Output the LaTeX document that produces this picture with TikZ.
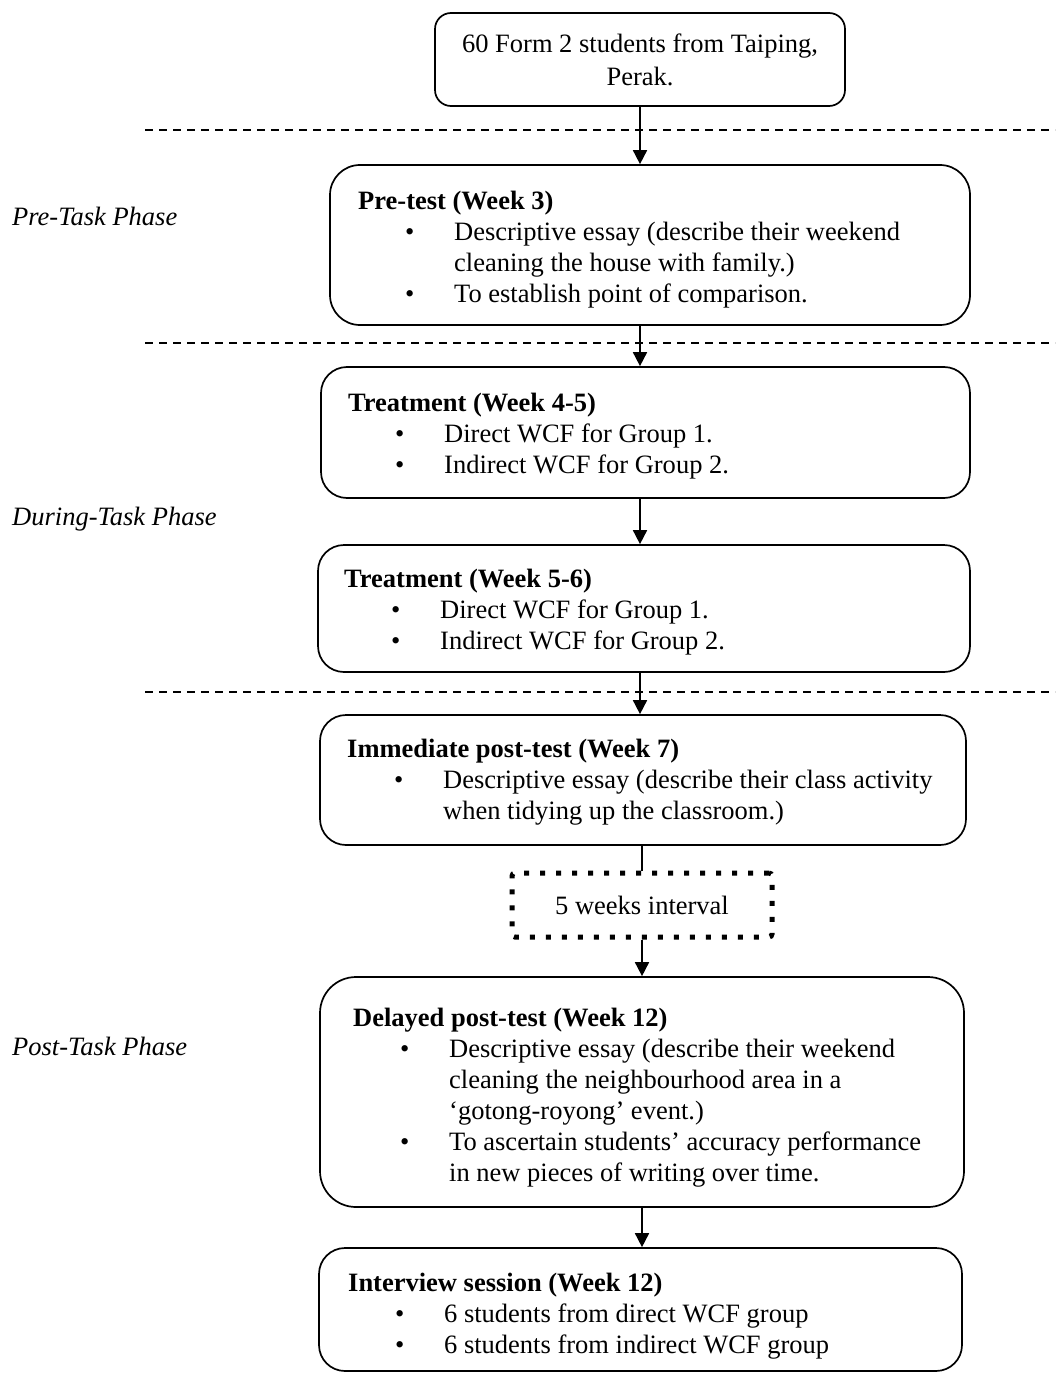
\documentclass[tikz,border=0pt]{standalone}
\usepackage{fontspec}
\setmainfont{Liberation Serif}
\usetikzlibrary{arrows.meta,calc}
\newcommand\bitem{\makebox[96pt][l]{\hspace{47pt}\textbullet}}
\begin{document}
\begin{tikzpicture}[x=1pt,y=-1pt,
  font=\fontsize{26.5}{31}\selectfont,
  box/.style={draw,line width=1.7pt,rounded corners=#1,inner sep=0pt},
  box/.default=26pt,
  txt/.style={anchor=base west,inner sep=0pt,align=left},
  phase/.style={anchor=base west,inner sep=0pt,font=\fontsize{26.5}{31}\selectfont\itshape},
  sepline/.style={dash pattern=on 8pt off 6pt,line width=1.3pt},
  arr/.style={-{Triangle[length=14pt,width=14pt]},line width=1.7pt},
  link/.style={line width=1.7pt},
  dotbox/.style={draw,line width=5pt,dash pattern=on 5pt off 11pt,rounded corners=3pt,inner sep=0pt}]
\useasboundingbox (0,0) rectangle (1055,1375);

% separators
\draw[sepline] (145,130) -- (1055,130);
\draw[sepline] (145,343) -- (1055,343);
\draw[sepline] (145,692) -- (1055,692);

% boxes
\node[box=16pt,minimum width=410pt,minimum height=93pt] (top) at (640,59.5) {};
\node[box=30pt,minimum width=640pt,minimum height=160pt] (pre) at (650,245) {};
\node[box,minimum width=649pt,minimum height=131pt] (t1) at (645.5,432.5) {};
\node[box,minimum width=652pt,minimum height=127pt] (t2) at (644,608.5) {};
\node[box,minimum width=646pt,minimum height=130pt] (imm) at (643,780) {};
\node[dotbox,minimum width=260pt,minimum height=64pt] (gap) at (642,905) {};
\node[box=36pt,minimum width=644pt,minimum height=230pt] (del) at (642,1092) {};
\node[box,minimum width=643pt,minimum height=123pt] (int) at (640.5,1309.5) {};

% texts
\node[inner sep=0pt,align=center,font=\fontsize{26.5}{33}\selectfont] (toptxt) at (top.center) {60 Form 2 students from Taiping,\\Perak.};

\node[txt] (pretxt) at (358,209) {\begin{tabular}[t]{@{}l@{}l@{}}
\multicolumn{2}{@{}l@{}}{\textbf{Pre-test (Week 3)}}\\
\bitem & Descriptive essay (describe their weekend\\
 & cleaning the house with family.)\\
\bitem & To establish point of comparison.
\end{tabular}};

\node[txt] (t1txt) at (348,411) {\begin{tabular}[t]{@{}l@{}l@{}}
\multicolumn{2}{@{}l@{}}{\textbf{Treatment (Week 4-5)}}\\
\bitem & Direct WCF for Group 1.\\
\bitem & Indirect WCF for Group 2.
\end{tabular}};

\node[txt] (t2txt) at (344,587) {\begin{tabular}[t]{@{}l@{}l@{}}
\multicolumn{2}{@{}l@{}}{\textbf{Treatment (Week 5-6)}}\\
\bitem & Direct WCF for Group 1.\\
\bitem & Indirect WCF for Group 2.
\end{tabular}};

\node[txt] (immtxt) at (347,757) {\begin{tabular}[t]{@{}l@{}l@{}}
\multicolumn{2}{@{}l@{}}{\textbf{Immediate post-test (Week 7)}}\\
\bitem & Descriptive essay (describe their class activity\\
 & when tidying up the classroom.)
\end{tabular}};

\node[inner sep=0pt] (gaptxt) at (gap.center) {5 weeks interval};

\node[txt] (deltxt) at (353,1026) {\begin{tabular}[t]{@{}l@{}l@{}}
\multicolumn{2}{@{}l@{}}{\textbf{Delayed post-test (Week 12)}}\\
\bitem & Descriptive essay (describe their weekend\\
 & cleaning the neighbourhood area in a\\
 & `gotong-royong' event.)\\
\bitem & To ascertain students' accuracy performance\\
 & in new pieces of writing over time.
\end{tabular}};

\node[txt] (inttxt) at (348,1291) {\begin{tabular}[t]{@{}l@{}l@{}}
\multicolumn{2}{@{}l@{}}{\textbf{Interview session (Week 12)}}\\
\bitem & 6 students from direct WCF group\\
\bitem & 6 students from indirect WCF group
\end{tabular}};

% phase labels
\node[phase] (ph1) at (12,225) {Pre-Task Phase};
\node[phase] (ph2) at (12,525) {During-Task Phase};
\node[phase] (ph3) at (12,1055) {Post-Task Phase};

% connectors
\draw[arr] (top.south) -- (top.south |- pre.north);
\draw[arr] (pre.south -| top.south) -- (t1.north -| top.south);
\draw[arr] (t1.south -| top.south) -- (t2.north -| top.south);
\draw[arr] (t2.south -| top.south) -- (imm.north -| top.south);
\draw[link] (imm.south -| gap.north) -- (gap.north);
\draw[arr] (gap.south) -- (gap.south |- del.north);
\draw[arr] (del.south -| gap.south) -- (int.north -| gap.south);
\end{tikzpicture}
\end{document}
